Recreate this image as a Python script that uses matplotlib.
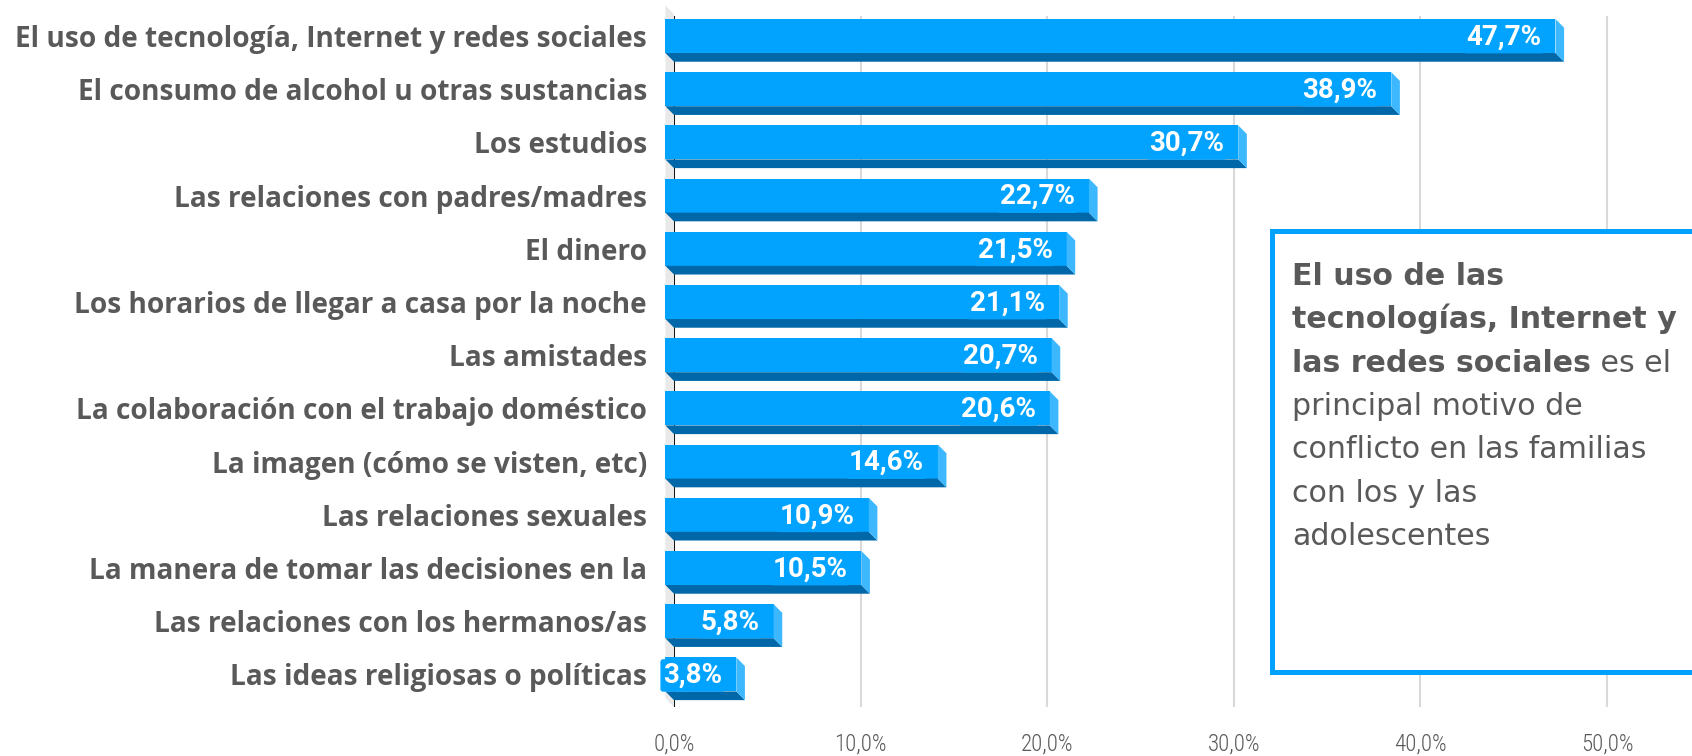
import matplotlib
matplotlib.use('Agg')
import matplotlib.pyplot as plt
from matplotlib.patches import Polygon, Rectangle

categorias = [
    'El uso de tecnología, Internet y redes sociales',
    'El consumo de alcohol u otras sustancias',
    'Los estudios',
    'Las relaciones con padres/madres',
    'El dinero',
    'Los horarios de llegar a casa por la noche',
    'Las amistades',
    'La colaboración con el trabajo doméstico',
    'La imagen (cómo se visten, etc)',
    'Las relaciones sexuales',
    'La manera de tomar las decisiones en la',
    'Las relaciones con los hermanos/as',
    'Las ideas religiosas o políticas',
]
valores = [47.7, 38.9, 30.7, 22.7, 21.5, 21.1, 20.7, 20.6, 14.6, 10.9, 10.5, 5.8, 3.8]
ticks_x = [0, 10, 20, 30, 40, 50]

AZUL = '#02A3FE'
AZUL_OSCURO = '#0068A8'
AZUL_LADO = '#3DB8FF'
GRIS = '#595959'
COND = ['Roboto Condensed', 'DejaVu Sans']

fig = plt.figure(figsize=(16.92, 7.56), dpi=100)
ax = fig.add_axes([674 / 1692, 1 - 707 / 756, 1 - 674 / 1692, (707 - 16) / 756])
ax.set_xlim(0, 1018 / 18.66)
ax.set_ylim((707 - 36) / 53.2, (16 - 36) / 53.2)

dx = 8.6 / 18.66   # profundidad 3D en x (%)
dy = 8.7 / 53.2    # profundidad 3D en y (categorias)
h = 0.32           # media altura de la cara

# pared izquierda gris
y_top, y_bot = ax.get_ylim()[1], ax.get_ylim()[0]
ax.add_patch(Polygon([(-dx, y_top - 0.2), (0, y_top - 0.2 + dy), (0, y_bot), (-dx, y_bot - dy)],
                     closed=True, facecolor='#E9E9E9', edgecolor='none', zorder=0, clip_on=False))

ax.grid(axis='x', color='#D9D9D9', linewidth=1.5, zorder=1)
ax.axvline(0, color='black', linewidth=1.3, zorder=2)

for i, v in enumerate(valores):
    # cara frontal
    ax.add_patch(Rectangle((-dx, i - h), v, 2 * h, facecolor=AZUL, edgecolor='none', zorder=3, clip_on=False))
    # cara inferior
    ax.add_patch(Polygon([(-dx, i + h), (v - dx, i + h), (v, i + h + dy), (0, i + h + dy)],
                         closed=True, facecolor=AZUL_OSCURO, edgecolor='none', zorder=3, clip_on=False))
    # lateral
    ax.add_patch(Polygon([(v - dx, i - h), (v, i - h + dy), (v, i + h + dy), (v - dx, i + h)],
                         closed=True, facecolor=AZUL_LADO, edgecolor='none', zorder=3, clip_on=False))
    ax.text(v - dx - 0.75, i + 0.02, f'{v:.1f}%'.replace('.', ','), ha='right', va='center',
            color='white', fontsize=20, fontweight='bold', family='Roboto', zorder=4,
            bbox=dict(boxstyle='round,pad=0.1', facecolor=AZUL, edgecolor='none'))

ax.set_yticks(range(len(categorias)))
ax.set_yticklabels(categorias, fontsize=20.2, fontweight='bold', color=GRIS,
                   family=['Open Sans', 'DejaVu Sans'])
ax.set_xticks(ticks_x)
ax.set_xticklabels([f'{t:.1f}%'.replace('.', ',') for t in ticks_x], fontsize=16.5, color=GRIS,
                   family=COND, fontweight='light')
ax.tick_params(axis='y', length=0, pad=19.5)
ax.tick_params(axis='x', length=0, pad=18.5)
for s in ax.spines.values():
    s.set_visible(False)

# recuadro de texto
fig.patches.append(Rectangle((1272 / 1692, 1 - 672 / 756), 0.3, (672 - 231) / 756,
                             transform=fig.transFigure, facecolor='white', edgecolor='#00A2FF',
                             linewidth=3.6, zorder=5))
x0 = 1292 / 1692
lineas = [
    ('El uso de las', 'bold', ''),
    ('tecnologías, Internet y', 'bold', ''),
    ('las redes sociales', 'bold', ' es el'),
    ('principal motivo de', 'normal', ''),
    ('conflicto en las familias', 'normal', ''),
    ('con los y las', 'normal', ''),
    ('adolescentes', 'normal', ''),
]
FUENTE_CAJA = 'DejaVu Sans'
TAM_CAJA = 21.6
fig.canvas.draw()
for k, (txt, peso, resto) in enumerate(lineas):
    y = 1 - (285 + 43.3 * k) / 756
    t = fig.text(x0, y, txt, fontsize=TAM_CAJA, fontweight=peso, color=GRIS, family=FUENTE_CAJA,
                 va='baseline', ha='left', zorder=6)
    if resto:
        bb = t.get_window_extent(renderer=fig.canvas.get_renderer())
        fig.text(bb.x1 / fig.bbox.width, y, resto, fontsize=TAM_CAJA, color=GRIS,
                 family=FUENTE_CAJA, va='baseline', ha='left', zorder=6)

fig.savefig('out.png', dpi=100)
